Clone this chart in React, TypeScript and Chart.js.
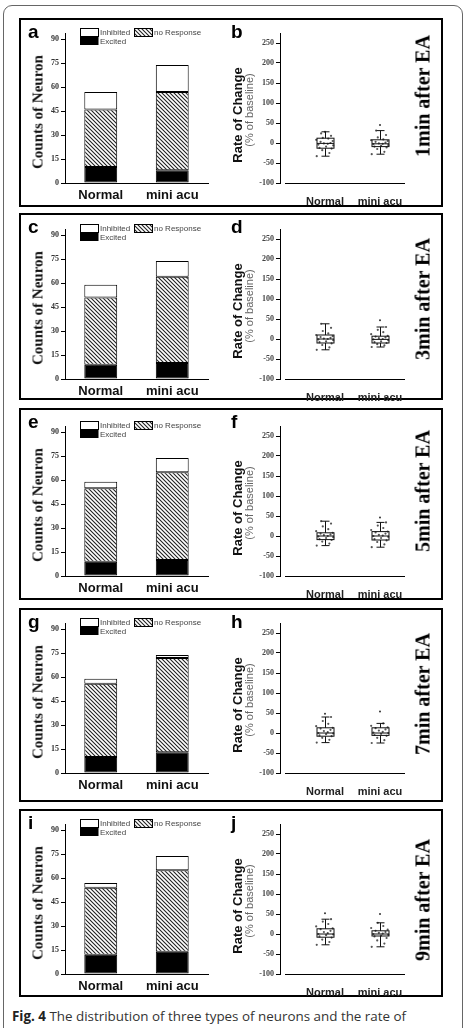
import React, { useEffect, useRef } from "react";
import { Chart, registerables } from "chart.js";

Chart.register(...registerables);

// ---------- data ----------
const CATEGORIES = ["Normal", "mini acu"];
const LEFT_LETTERS = ["a", "c", "e", "g", "i"];
const RIGHT_LETTERS = ["b", "d", "f", "h", "j"];
const TIME_LABELS = ["1min after EA", "3min after EA", "5min after EA", "7min after EA", "9min after EA"];

// stacked counts per panel: [Normal, mini acu]
const EXCITED = [[10, 8], [9, 10], [9, 10], [10, 13], [12, 14]];
const NO_RESPONSE = [[36, 49], [42, 54], [46, 55], [46, 59], [42, 51]];
const INHIBITED = [[11, 17], [8, 10], [4, 9], [3, 2], [3, 9]];

const COUNT_TICKS = [0, 15, 30, 45, 60, 75, 90];
const RATE_TICKS = [-100, -50, 0, 50, 100, 150, 200, 250];

// box stats [min, q1, median, q3, max]
const BOX_NORMAL = [
  [-33, -13, -1, 12, 28],
  [-27, -10, 0, 10, 38],
  [-24, -9, 0, 8, 37],
  [-24, -8, 0, 13, 40],
  [-27, -8, 0, 13, 37],
];
const BOX_MINI = [
  [-28, -9, -2, 8, 31],
  [-20, -10, -1, 7, 30],
  [-28, -10, 0, 11, 34],
  [-25, -6, 0, 13, 24],
  [-32, -5, 0, 8, 28],
];
const OUTLIERS_NORMAL = [[], [], [], [48], [52]];
const OUTLIERS_MINI = [[45], [47], [46], [54], [50]];

// individual neuron values (% change)
const POINTS_NORMAL = [
  [-33, -25, -18, -14, -12, -9, -6, -4, -2, -1, 0, 3, 5, 8, 11, 13, 18, 24, 28],
  [-27, -21, -15, -11, -8, -6, -3, -1, 0, 1, 3, 5, 7, 10, 14, 20, 28, 38],
  [-24, -19, -14, -10, -8, -5, -3, -1, 0, 2, 4, 6, 8, 12, 17, 24, 31, 37],
  [-24, -17, -12, -8, -6, -3, -1, 0, 2, 5, 8, 11, 13, 17, 23, 30, 40],
  [-27, -20, -14, -9, -6, -3, -1, 0, 2, 5, 8, 12, 14, 19, 25, 31, 37],
];
const POINTS_MINI = [
  [-28, -22, -15, -11, -9, -7, -5, -3, -2, -1, 1, 3, 5, 7, 9, 14, 20, 31],
  [-20, -16, -13, -10, -8, -6, -3, -1, 0, 2, 4, 6, 8, 12, 17, 23, 30],
  [-28, -21, -15, -11, -8, -5, -2, 0, 1, 3, 6, 9, 11, 15, 20, 26, 34],
  [-25, -18, -12, -7, -5, -2, 0, 1, 3, 6, 9, 12, 14, 18, 24],
  [-32, -24, -16, -10, -6, -4, -2, 0, 1, 3, 5, 8, 11, 15, 20, 28],
];

// ---------- layout / style ----------
const JITTER = [-0.15, 0.08, -0.05, 0.12, -0.1, 0.02, 0.15, -0.12, 0.05, -0.02, 0.1, -0.08, 0.14, -0.16, 0.06, -0.04, 0.11, -0.07, 0.0];
const PANEL_TOPS = [18, 213, 408, 608, 809];
const PANEL_BOTTOMS = [207, 400, 600, 802, 997];
const ZERO_Y = [183, 379, 576, 773, 974];
const SIDE_CENTER_Y = [96, 299, 491, 694, 900];

const SANS = "'Liberation Sans', Arial, sans-serif";
const SERIF = "'Liberation Serif', 'Times New Roman', serif";

function makeHatch(ctx: CanvasRenderingContext2D) {
  const c = document.createElement("canvas");
  c.width = 4;
  c.height = 4;
  const g = c.getContext("2d")!;
  g.fillStyle = "#fff";
  g.fillRect(0, 0, 4, 4);
  g.strokeStyle = "#222";
  g.lineWidth = 1.1;
  g.beginPath();
  g.moveTo(-1, -1);
  g.lineTo(5, 5);
  g.moveTo(-1, 3);
  g.lineTo(1, 5);
  g.moveTo(3, -1);
  g.lineTo(5, 1);
  g.stroke();
  return ctx.createPattern(c, "repeat")!;
}

function BarChart({ idx }: { idx: number }) {
  const ref = useRef<HTMLCanvasElement>(null);
  useEffect(() => {
    const canvas = ref.current!;
    const ctx = canvas.getContext("2d")!;
    const hatch = makeHatch(ctx);
    const legendPlugin = {
      id: "miniLegend",
      afterDraw(chart: any) {
        const c = chart.ctx as CanvasRenderingContext2D;
        const ca = chart.chartArea;
        const bx = ca.left + 15;
        const by = ca.top - 5;
        c.save();
        c.lineWidth = 1;
        c.strokeStyle = "#000";
        c.fillStyle = "#fff";
        c.fillRect(bx, by, 18, 8);
        c.strokeRect(bx + 0.5, by + 0.5, 18, 8);
        c.fillStyle = "#000";
        c.fillRect(bx, by + 8, 18.5, 9);
        c.fillStyle = hatch;
        c.fillRect(bx + 54, by, 18, 8);
        c.strokeRect(bx + 54.5, by + 0.5, 18, 8);
        c.fillStyle = "#444";
        c.font = `8px ${SANS}`;
        c.textBaseline = "middle";
        c.fillText("Inhibited", bx + 20, by + 4.5);
        c.fillText("Excited", bx + 20, by + 13.5);
        c.fillText("no Response", bx + 74, by + 4.5);
        c.restore();
      },
    };
    const seg = (label: string, data: number[], bg: any) => ({
      label,
      data,
      backgroundColor: bg,
      borderColor: "#000",
      borderWidth: 1,
      borderSkipped: false,
      barPercentage: 0.46,
      categoryPercentage: 1,
    });
    const chart = new Chart(canvas, {
      type: "bar",
      data: {
        labels: CATEGORIES,
        datasets: [
          seg("Excited", EXCITED[idx], "#000"),
          seg("no Response", NO_RESPONSE[idx], hatch),
          seg("Inhibited", INHIBITED[idx], "#fff"),
        ],
      },
      options: {
        animation: false,
        responsive: false,
        maintainAspectRatio: false,
        layout: { padding: { top: 13, right: 13, left: 0, bottom: 0 } },
        plugins: { legend: { display: false }, tooltip: { enabled: false } },
        scales: {
          x: {
            stacked: true,
            offset: true,
            grid: { display: true, drawOnChartArea: false, drawTicks: false },
            border: { color: "#000", width: 1 },
            ticks: { font: { family: SANS, weight: "bold", size: 13 }, color: "#111", padding: 5 },
            afterFit: (s: any) => {
              s.height = 22;
            },
          },
          y: {
            stacked: true,
            min: 0,
            max: 94,
            afterBuildTicks: (s: any) => {
              s.ticks = COUNT_TICKS.map((v) => ({ value: v }));
            },
            grid: { display: true, drawOnChartArea: false, tickLength: 4, color: "#000" },
            border: { color: "#000", width: 1 },
            ticks: { font: { family: SERIF, weight: "bold", size: 8 }, color: "#333", padding: 2 },
            afterFit: (s: any) => {
              s.width = 44;
            },
          },
        },
      } as any,
      plugins: [legendPlugin],
    });
    return () => chart.destroy();
  }, [idx]);
  return (
    <canvas
      ref={ref}
      width={200}
      height={185}
      style={{ position: "absolute", left: 21, top: ZERO_Y[idx] - 163, width: 200, height: 185 }}
    />
  );
}

function BoxChart({ idx }: { idx: number }) {
  const ref = useRef<HTMLCanvasElement>(null);
  useEffect(() => {
    const canvas = ref.current!;
    const stats = [BOX_NORMAL[idx], BOX_MINI[idx]];
    const boxPlugin = {
      id: "boxes",
      afterDatasetsDraw(chart: any) {
        const c = chart.ctx as CanvasRenderingContext2D;
        const x = chart.scales.x;
        const y = chart.scales.y;
        const ca = chart.chartArea;
        c.save();
        c.strokeStyle = "#111";
        c.lineWidth = 1;
        stats.forEach((s, i) => {
          const cx = Math.round(x.getPixelForValue(i)) + 0.5;
          const [mn, q1, md, q3, mx] = s;
          const hw = 8.5;
          const cw = 4;
          const pMn = y.getPixelForValue(mn);
          const pQ1 = y.getPixelForValue(q1);
          const pMd = y.getPixelForValue(md);
          const pQ3 = y.getPixelForValue(q3);
          const pMx = y.getPixelForValue(mx);
          c.strokeRect(cx - hw, pQ3, hw * 2, pQ1 - pQ3);
          c.beginPath();
          c.moveTo(cx - hw, pMd);
          c.lineTo(cx + hw, pMd);
          c.moveTo(cx, pQ3);
          c.lineTo(cx, pMx);
          c.moveTo(cx - cw, pMx);
          c.lineTo(cx + cw, pMx);
          c.moveTo(cx, pQ1);
          c.lineTo(cx, pMn);
          c.moveTo(cx - cw, pMn);
          c.lineTo(cx + cw, pMn);
          c.stroke();
        });
        // detached x axis line
        c.strokeStyle = "#000";
        c.beginPath();
        c.moveTo(ca.left + 5, Math.round(ca.bottom) + 0.5);
        c.lineTo(ca.right, Math.round(ca.bottom) + 0.5);
        c.stroke();
        c.restore();
      },
    };
    const pts = (vals: number[], g: number) => vals.map((v, k) => ({ x: g + JITTER[k % JITTER.length], y: v }));
    const outs = (vals: number[], g: number) => vals.map((v) => ({ x: g, y: v }));
    const chart = new Chart(canvas, {
      type: "scatter",
      data: {
        datasets: [
          {
            label: "neurons",
            data: [...pts(POINTS_NORMAL[idx], 0), ...pts(POINTS_MINI[idx], 1)],
            pointRadius: 1.1,
            pointBackgroundColor: "#555",
            pointBorderWidth: 0,
          },
          {
            label: "outliers",
            data: [...outs(OUTLIERS_NORMAL[idx], 0), ...outs(OUTLIERS_MINI[idx], 1)],
            pointRadius: 1,
            pointBackgroundColor: "#333",
            pointBorderWidth: 0,
          },
        ],
      },
      options: {
        animation: false,
        responsive: false,
        maintainAspectRatio: false,
        layout: { padding: { top: 13, right: 10, left: 0, bottom: 0 } },
        plugins: { legend: { display: false }, tooltip: { enabled: false } },
        scales: {
          x: {
            type: "linear",
            min: -0.818,
            max: 1.455,
            afterBuildTicks: (s: any) => {
              s.ticks = [{ value: 0 }, { value: 1 }];
            },
            grid: { display: false },
            border: { display: false },
            ticks: {
              callback: (_v: any, i: number) => CATEGORIES[i],
              font: { family: SANS, weight: "bold", size: 11 },
              color: "#222",
              padding: 4,
              maxRotation: 0,
            },
            afterFit: (s: any) => {
              s.height = 22;
            },
          },
          y: {
            min: -100,
            max: 275,
            afterBuildTicks: (s: any) => {
              s.ticks = RATE_TICKS.map((v) => ({ value: v }));
            },
            grid: { display: true, drawOnChartArea: false, tickLength: 4, color: "#000" },
            border: { color: "#000", width: 1 },
            ticks: { font: { family: SERIF, weight: "bold", size: 8 }, color: "#444", padding: 2 },
            afterFit: (s: any) => {
              s.width = 59;
            },
          },
        },
      } as any,
      plugins: [boxPlugin],
    });
    return () => chart.destroy();
  }, [idx]);
  return (
    <canvas
      ref={ref}
      width={194}
      height={185}
      style={{ position: "absolute", left: 221, top: ZERO_Y[idx] - 163, width: 194, height: 185 }}
    />
  );
}

const rot = (cx: number, cy: number): React.CSSProperties => ({
  position: "absolute",
  left: cx,
  top: cy,
  transform: "translate(-50%, -50%) rotate(-90deg)",
  whiteSpace: "nowrap",
  lineHeight: 1,
});

function Panel({ idx }: { idx: number }) {
  const top = PANEL_TOPS[idx];
  const z = ZERO_Y[idx];
  return (
    <>
      <div
        style={{
          position: "absolute",
          left: 19,
          top,
          width: 424,
          height: PANEL_BOTTOMS[idx] - top,
          border: "2px solid #000",
          boxSizing: "border-box",
        }}
      />
      <BarChart idx={idx} />
      <BoxChart idx={idx} />
      <div style={{ position: "absolute", left: 28, top: top + 4, font: `bold 19px ${SANS}`, lineHeight: "19px", color: "#000" }}>
        {LEFT_LETTERS[idx]}
      </div>
      <div style={{ position: "absolute", left: 231, top: top + 4, font: `bold 19px ${SANS}`, lineHeight: "19px", color: "#000" }}>
        {RIGHT_LETTERS[idx]}
      </div>
      <div style={{ ...rot(37.5, z - 71), font: `bold 15px ${SERIF}`, color: "#111" }}>Counts of Neuron</div>
      <div style={{ ...rot(237, z - 68.5), font: `bold 13px ${SANS}`, color: "#111" }}>Rate of Change</div>
      <div style={{ ...rot(248.5, z - 73), font: `11px ${SANS}`, color: "#666" }}>(% of baseline)</div>
      <div style={{ ...rot(423, SIDE_CENTER_Y[idx]), font: `bold 20px ${SERIF}`, color: "#000" }}>{TIME_LABELS[idx]}</div>
    </>
  );
}

export default function App() {
  return (
    <div
      style={{
        position: "absolute",
        left: 0,
        top: 0,
        width: 467,
        height: 1028,
        overflow: "hidden",
        background: "#fff",
      }}
    >
      <div
        style={{
          position: "absolute",
          left: 3,
          top: 5,
          width: 460,
          height: 1040,
          border: "1px solid #666",
          borderRadius: 9,
          boxSizing: "border-box",
        }}
      />
      {[0, 1, 2, 3, 4].map((i) => (
        <Panel key={i} idx={i} />
      ))}
      <div
        style={{
          position: "absolute",
          left: 12,
          top: 1008,
          font: `13.4px 'Open Sans', sans-serif`,
          lineHeight: "16px",
          color: "#333",
          whiteSpace: "nowrap",
        }}
      >
        <b style={{ color: "#222" }}>Fig. 4</b> The distribution of three types of neurons and the rate of
      </div>
    </div>
  );
}
